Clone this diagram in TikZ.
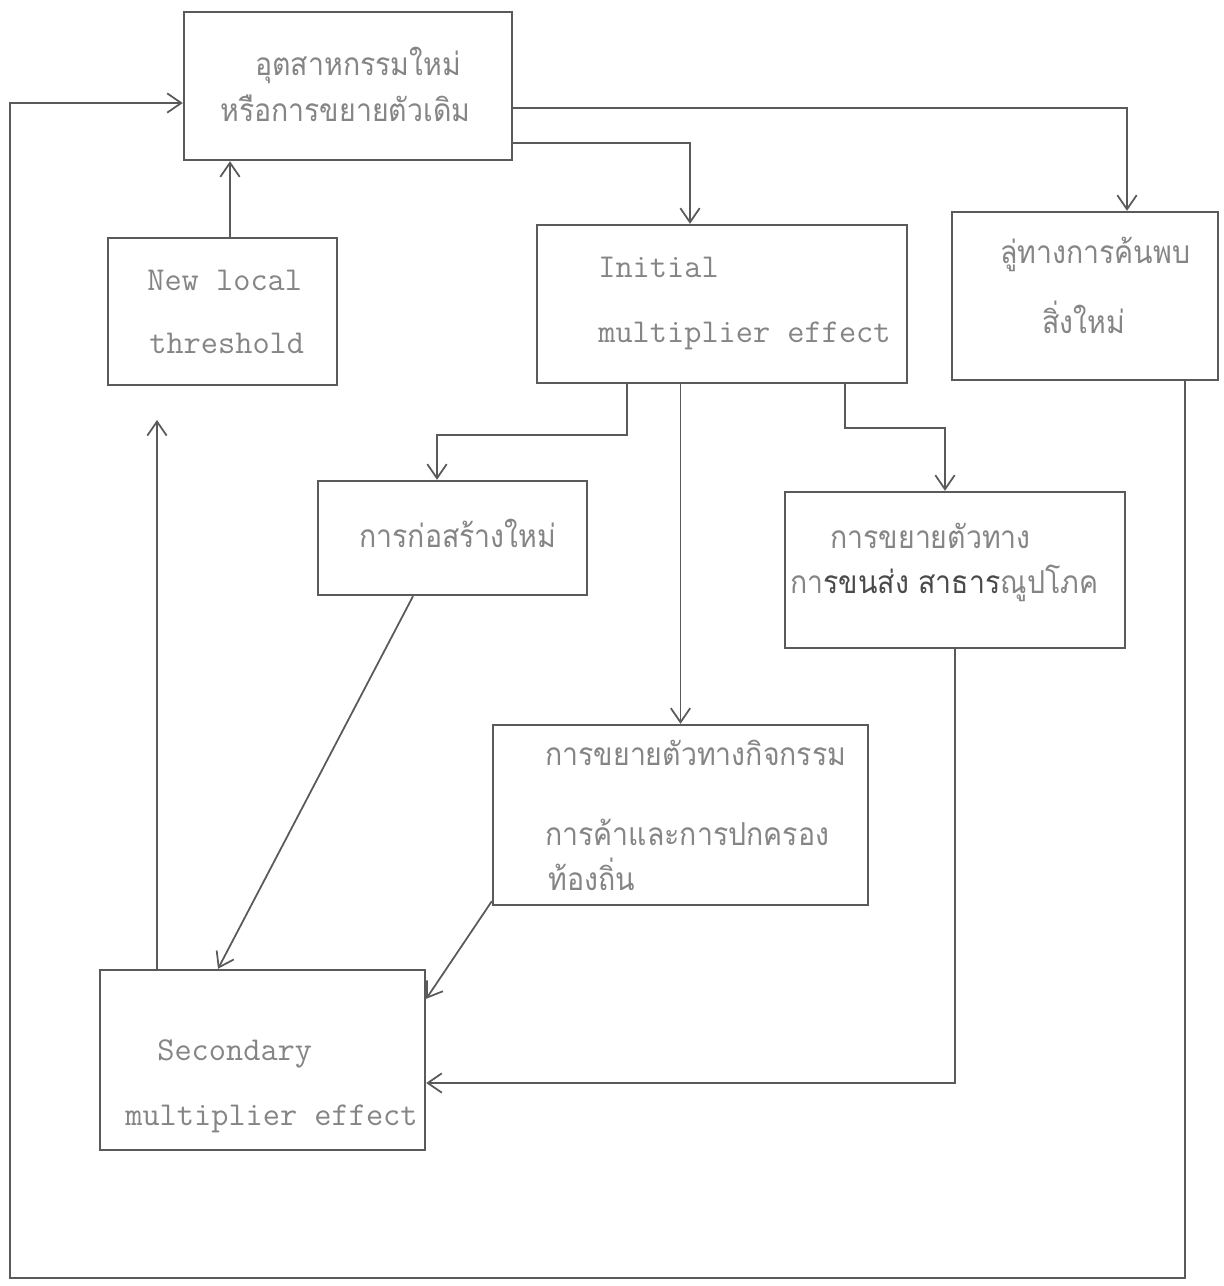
\documentclass[tikz,border=0pt]{standalone}
\usepackage{fontspec}
\setmainfont{Liberation Mono}
\newfontfamily\thaifont[Script=Thai,FakeStretch=0.9]{Loma}
\usetikzlibrary{arrows.meta,calc}
\definecolor{ink}{HTML}{5A5A5A}
\definecolor{txt}{HTML}{858585}
\definecolor{txtdark}{HTML}{4A4A4A}
\tikzset{
  box/.style={draw=ink, line width=1.4pt, inner sep=0pt, fill=none},
  arr/.style={draw=ink, line width=1pt, -{Straight Barb[length=8pt,width=11pt,line width=1pt]}},
  conn/.style={draw=ink, line width=1pt},
  lat/.style={anchor=base west, inner sep=0pt, text=txt, font=\ttfamily\fontsize{19}{21}\selectfont},
  tha/.style={anchor=base west, inner sep=0pt, text=txt, font=\thaifont\fontsize{18}{20}\selectfont},
}
\begin{document}
\begin{tikzpicture}[x=0.02cm,y=-0.02cm]
\useasboundingbox[fill=white] (0,0) rectangle (1224,1286);

% boxes
\node[box, minimum width=6.56cm, minimum height=2.96cm] (ind) at (348,86) {};
\node[box, minimum width=4.58cm, minimum height=2.94cm] (thr) at (222.5,311.5) {};
\node[box, minimum width=7.4cm, minimum height=3.16cm] (ini) at (722,304) {};
\node[box, minimum width=5.32cm, minimum height=3.36cm] (luu) at (1085,296) {};
\node[box, minimum width=5.38cm, minimum height=2.28cm] (kor) at (452.5,538) {};
\node[box, minimum width=6.8cm, minimum height=3.12cm] (khon) at (955,570) {};
\node[box, minimum width=7.5cm, minimum height=3.6cm] (kit) at (680.5,815) {};
\node[box, minimum width=6.5cm, minimum height=3.6cm] (sec) at (262.5,1060) {};

% texts
\node[tha] (ind1) at (255,75) {อุตสาหกรรมใหม่};
\node[tha] (ind2) at (220,121) {หรือการขยายตัวเดิม};
\node[lat] (thr1) at (147,290) {New local};
\node[lat] (thr2) at (149,353) {threshold};
\node[lat] (ini1) at (598,277) {Initial};
\node[lat] (ini2) at (598,342) {multiplier effect};
\node[tha] (luu1) at (1000,263) {ลู่ทางการค้นพบ};
\node[tha] (luu2) at (1042,333) {สิ่งใหม่};
\node[tha] (kor1) at (359,547) {การก่อสร้างใหม่};
\node[tha] (khon1) at (830,548) {การขยายตัวทาง};
\node[tha] (khon2) at (790,593) {กา\textcolor{txtdark}{รขนส่ง สาธาร}ณูปโภค};
\node[tha] (kit1) at (545,765) {การขยายตัวทางกิจกรรม};
\node[tha] (kit2) at (545,845) {การค้าและการปกครอง};
\node[tha] (kit3) at (548,890) {ท้องถิ่น};
\node[lat] (sec1) at (157,1060) {Secondary};
\node[lat] (sec2) at (125,1125) {multiplier effect};

% connectors
\draw[arr] ($(ind.east)+(0,22)$) -| ($(luu.north)+(42,0)$);
\draw[arr] ($(ind.east)+(0,57)$) -| ($(ini.north)+(-32,0)$);

\coordinate (t1) at ($(thr.north)+(7.5,0)$);
\draw[arr] (t1) -- (t1 |- ind.south);

\coordinate (s1) at ($(sec.north)+(-105.5,0)$);
\coordinate (s1e) at (157,420);
\draw[arr] (s1) -- (s1e);

\coordinate (i1) at ($(ini.south)+(-95,0)$);
\coordinate (k1) at ($(kor.north)+(-15.5,0)$);
\coordinate (m1) at (0,435);
\draw[arr] (i1) |- (k1 |- m1) -- (k1);

\draw[arr] (kit.north |- ini.south) -- (kit.north);

\coordinate (i2) at ($(ini.south)+(123,0)$);
\coordinate (k2) at ($(khon.north)+(-10,0)$);
\coordinate (m2) at (0,428);
\draw[arr] (i2) |- (k2 |- m2) -- (k2);

\draw[arr] ($(kor.south)+(-39.5,0)$) -- ($(sec.north)+(-44.5,0)$);
\draw[arr] ($(kit.south west)+(0,-5)$) -- ($(sec.north east)+(0,30)$);
\draw[arr] (khon.south) |- ($(sec.east)+(0,23)$);

\coordinate (bl) at (10,1278);
\draw[arr] ($(luu.south)+(100,0)$) |- (bl) |- ($(ind.west)+(0,17)$);
\end{tikzpicture}
\end{document}
